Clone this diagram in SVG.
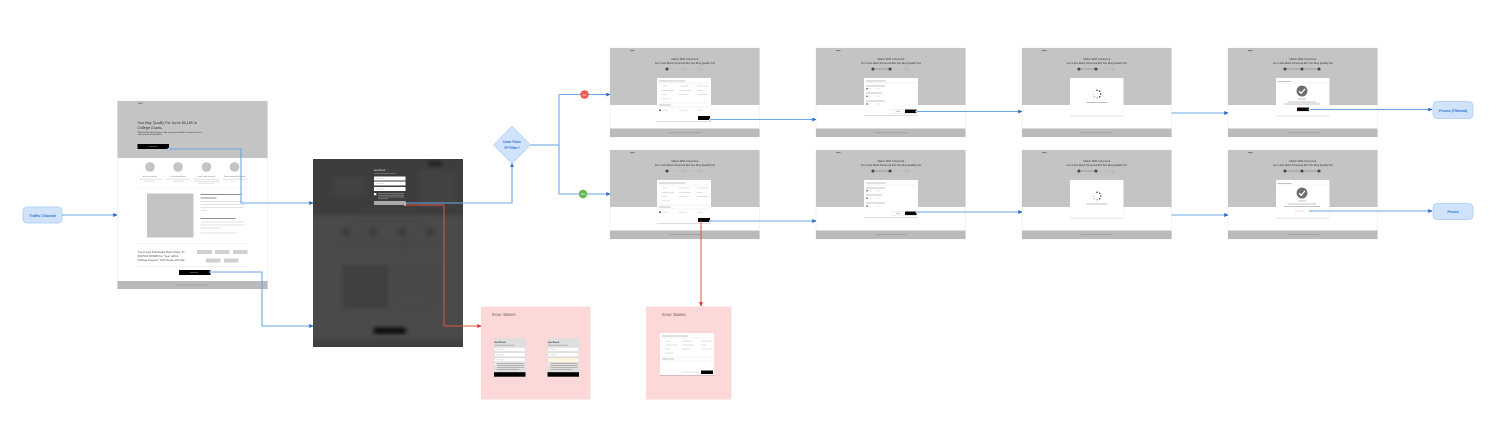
<svg xmlns="http://www.w3.org/2000/svg" width="1500" height="433" viewBox="0 0 1500 433">
<style>
text{font-family:"Liberation Sans",Arial,sans-serif;text-rendering:geometricPrecision}
.page{fill:#fff;stroke:#ebebeb;stroke-width:.6}
.grey{fill:#c4c4c4}
.foot{fill:#bababa}
.black{fill:#000}
.tx{fill:none;stroke:#8f8f8f;stroke-width:.55}
.txd{fill:none;stroke:#444;stroke-width:.6}
.txl{fill:none;stroke:#c2c2c2;stroke-width:.5}
.rule{fill:none;stroke:#e6e6e6;stroke-width:.5}
.title{font-size:2.75px;fill:#333;text-anchor:middle}
.head{fill:#333}
.modal{fill:#fff;filter:url(#sh)}
.soft{filter:url(#so)}
.flow{fill:#d0e3fb;stroke:#a9cdf5;stroke-width:.8}
.flowt{fill:#2d74d6;font-size:3.7px;font-weight:700;text-anchor:middle}
.c{fill:none;stroke:#6aa8e6;stroke-width:1.1}
.r{fill:none;stroke:#e2553f;stroke-width:1}
.h{fill:#fff;stroke:#5fa0e2;stroke-width:.5}
.hr{fill:#fff;stroke:#e2553f;stroke-width:.5}
.pink{fill:#fdd8d8}
.err{font-size:4.4px;fill:#555}
.field{fill:#fff;stroke:#cfcfcf;stroke-width:.3}
</style>
<defs>
<filter id="sh" x="-10%" y="-10%" width="120%" height="125%"><feDropShadow dx="0" dy=".6" stdDeviation=".5" flood-color="#000" flood-opacity=".22"/></filter>
<filter id="bl" x="-5%" y="-5%" width="110%" height="110%"><feGaussianBlur stdDeviation="2"/></filter>
<filter id="so" x="-2%" y="-2%" width="104%" height="104%"><feGaussianBlur stdDeviation=".28"/></filter>
<marker id="a" viewBox="0 0 6 6" refX="5.6" refY="3" markerWidth="4" markerHeight="4" markerUnits="userSpaceOnUse" orient="auto"><path d="M0 0L6 3L0 6z" fill="#2c6cc4"/></marker>
<marker id="ar" viewBox="0 0 6 6" refX="5.6" refY="3" markerWidth="4" markerHeight="4" markerUnits="userSpaceOnUse" orient="auto"><path d="M0 0L6 3L0 6z" fill="#d9342b"/></marker>
<g id="scr">
<rect class="page" width="149.5" height="89"/>
<rect class="grey" width="149.5" height="57"/>
<rect class="foot" y="80.5" width="149.5" height="8.5"/>
<path class="txd" d="M20 2.6h4.5"/>
<text class="title" x="75" y="11.7">Match With Schools &amp;</text>
<text class="title" x="75" y="15.8">See How Much Financial Aid You May Qualify For</text>
<path class="tx" d="M59 84.6h32"/>
<path class="txl" d="M55.5 24.7h3M72.5 24.7h3M89.5 24.7h3"/>
</g>
<g id="s1"><circle cx="57" cy="21" r="1.6" fill="#444"/><circle cx="74" cy="21" r="1.5" fill="none" stroke="#999" stroke-width=".3"/><circle cx="91" cy="21" r="1.5" fill="none" stroke="#999" stroke-width=".3"/><path d="M59 21h13.500M76 21h13.500" stroke="#aaa" stroke-width=".25"/></g>
<g id="s2"><circle cx="57" cy="21" r="1.6" fill="#444"/><circle cx="74" cy="21" r="1.6" fill="#444"/><circle cx="91" cy="21" r="1.5" fill="none" stroke="#999" stroke-width=".3"/><path d="M59 21h13.500" stroke="#333" stroke-width=".3"/><path d="M76 21h13.500" stroke="#aaa" stroke-width=".25"/></g>
<g id="s3"><circle cx="57" cy="21" r="1.6" fill="#444"/><circle cx="74" cy="21" r="1.6" fill="#444"/><circle cx="91" cy="21" r="1.6" fill="#444"/><path d="M59 21h13.500M76 21h13.500" stroke="#333" stroke-width=".3"/></g>
<g id="m1">
<rect class="modal" width="54" height="43"/>
<path class="tx" d="M2 3h26"/><path class="rule" d="M2 5h50"/>
<path class="txl" d="M5 8h5M22 8h10M40 8h11M5 12.5h12M22 12.5h12M40 12.5h6M5 16.5h5M22 16.5h8M40 16.5h11M5 20.8h8"/>
<path class="rule" d="M2 25h50"/><path class="tx" d="M2 27h12"/><path class="rule" d="M2 29h50"/>
<circle cx="3" cy="32.2" r=".9" fill="#444"/><path class="txl" d="M5 32.2h6M22 32.2h8M40 32.2h6"/>
<rect class="black" x="41" y="38" width="12" height="4"/>
</g>
<g id="m2">
<rect class="modal" width="54" height="37"/>
<path class="tx" d="M2 3h20"/><path class="rule" d="M2 5h50"/>
<path class="tx" d="M2 8h19"/><circle cx="3" cy="10.7" r=".8" fill="#444"/><circle cx="12" cy="10.7" r=".6" fill="#ddd"/><path class="txl" d="M5 10.7h2M14 10.700h2"/>
<path class="tx" d="M2 15h16"/><circle cx="3" cy="18.2" r=".8" fill="#444"/><circle cx="12" cy="18.2" r=".6" fill="#ddd"/><path class="txl" d="M5 18.2h2M14 18.200h2"/>
<path class="tx" d="M2 23h19"/><circle cx="3" cy="26" r=".8" fill="#444"/><circle cx="12" cy="26" r=".6" fill="#ddd"/><path class="txl" d="M5 26h2M14 26h2"/>
<rect x="28" y="31.5" width="12" height="3.6" fill="#fff" stroke="#ccc" stroke-width=".3"/><path class="tx" d="M32 33.3h4"/>
<rect class="black" x="41" y="31.5" width="11.5" height="3.6"/>
</g>
<g id="spin">
<g fill="#333"><circle cx="0" cy="-3.7" r=".8"/><circle cx="2.7" cy="-2.7" r=".8"/><circle cx="3.7" cy="0" r=".8"/><circle cx="2.7" cy="2.7" r=".8"/></g>
<g fill="#999"><circle cx="0" cy="3.7" r=".7"/><circle cx="-2.7" cy="2.7" r=".6"/><circle cx="-3.7" cy="0" r=".5"/><circle cx="-2.7" cy="-2.7" r=".4"/></g>
</g>
<g id="chk">
<circle r="5.5" fill="#6e6e6e"/><path d="M-2.8 .2L-.8 2.300L3 -2.200" fill="none" stroke="#fff" stroke-width="1.300"/>
</g>
<g id="form">
<rect width="31.5" height="39" fill="#dfdfdf"/>
<text x="0.5" y="5" font-size="2.4" font-weight="700" fill="#222">Get Fixed</text>
<path class="tx" d="M.5 7.300h20"/>
<rect class="field" x=".5" y="9.500" width="30.5" height="3.8"/><rect class="field" x=".5" y="14.800" width="30.5" height="3.8"/><rect class="field" x=".5" y="20" width="30.5" height="3.8"/>
<path class="txl" d="M2 11.400h8M2 16.700h8M2 21.900h8"/>
<rect x=".5" y="25.5" width="1.5" height="1.5" fill="#fff"/>
<path class="tx" d="M3 25.500h27M3 27.500h27M3 29.500h27M3 31.500h22"/>
<rect class="black" x="0" y="34.2" width="31.5" height="4.5"/>
</g>
</defs>

<g id="traffic-channel"><rect class="flow" x="23" y="207" width="39" height="16" rx="4"/><text class="flowt" x="42.500" y="216.500">Traffic Channel</text></g>

<g id="landing" class="soft">
<rect class="page" x="117.500" y="101" width="150" height="188"/>
<rect class="grey" x="117.500" y="101" width="150" height="57"/>
<rect class="foot" x="117.500" y="281" width="150" height="8"/>
<path class="txd" d="M138 103.300h4.500"/>
<text class="head" x="137.500" y="123.700" font-size="3.700">You May Qualify For Up to $6,195 in</text>
<text class="head" x="137.500" y="128.500" font-size="3.700">College Grants</text>
<text class="head" x="137.500" y="132.500" font-size="2.150">Take this 30 second quiz to see if you are eligible for grants you can</text>
<text class="head" x="137.500" y="135.300" font-size="2.150">use towards an education.</text>
<rect class="black" x="137.500" y="144" width="31.500" height="5"/>
<path d="M149 146.500h8" stroke="#888" stroke-width=".5"/>
<g class="grey"><circle cx="150" cy="167" r="4.800"/><circle cx="178" cy="167" r="4.800"/><circle cx="206.500" cy="167" r="4.800"/><circle cx="234.500" cy="167" r="4.800"/></g>
<g font-size="1.650" fill="#333" text-anchor="middle"><text x="150" y="177">Safer Your Journey</text><text x="178" y="177">Financial Aid Options</text><text x="206.500" y="177">Earn Flexible Programs</text><text x="234.500" y="177">Compare Accredited Schools</text></g>
<path class="txl" d="M139 179.300h23M166 179.300h24M194 179.300h25M223 179.300h24M145 181.300h10M172 181.300h12M194 181.300h25M231 181.300h4M198 183.300h17"/>
<path class="rule" d="M136 188h112"/>
<rect class="grey" x="147" y="193.500" width="46.500" height="44"/>
<path class="txd" d="M200.500 194.500h41M200.500 198h16M200.500 218.500h35"/>
<path class="txl" d="M200.500 201.500h43M200.500 204.500h44M200.500 207.500h44M200.500 210.500h6M200.500 222h44M200.500 225h44M200.500 228h20M200.500 233h36"/>
<path class="rule" d="M136 243.500h112"/>
<g font-size="2.950" fill="#555"><text x="137.500" y="252.500">You Could Potentially Earn Close To</text><text x="137.500" y="256.800">$22,500 MORE Per Year with A</text><text x="137.500" y="261">College Degree* from these schools</text></g>
<g fill="#d0d0d0"><rect x="197" y="250" width="15" height="4"/><rect x="215" y="250" width="14.500" height="4"/><rect x="233" y="250" width="14.500" height="4"/><rect x="206" y="258.500" width="14.500" height="4"/><rect x="224" y="258.500" width="14.500" height="4"/></g>
<path class="rule" d="M136 266.500h112"/>
<rect class="black" x="179" y="270" width="31.500" height="5"/>
<path d="M190 272.500h8" stroke="#888" stroke-width=".5"/>
<path class="tx" d="M177 285h31"/>
</g>

<g id="email-overlay">
<svg x="313" y="159" width="150" height="188" viewBox="0 0 150 188">
<rect width="150" height="188" fill="#4a4a4a"/>
<g filter="url(#bl)">
<rect x="-10" y="-10" width="170" height="66" fill="#3d3d3d"/>
<rect x="-10" y="180" width="170" height="18" fill="#404040"/>
<rect x="115" y="2" width="14" height="5" fill="#1c1c1c"/>
<path stroke="#4d4d4d" stroke-width="1.300" d="M20 21h35M20 25h30M20 29h35M20 34h30M105 14h38M105 20h38M105 26h38M105 32h38M105 38h38M105 44h38"/>
<path stroke="#404040" stroke-width="1.500" d="M40 62h70"/>
<g fill="#3a3a3a"><circle cx="33" cy="73" r="4.500"/><circle cx="60" cy="73" r="4.500"/><circle cx="89" cy="73" r="4.500"/><circle cx="117" cy="73" r="4.500"/></g>
<path stroke="#404040" stroke-width="1.300" d="M22 83h24M50 83h24M78 83h26M107 83h26M82 87h18"/>
<rect x="29" y="106" width="47" height="43" fill="#3f3f3f"/>
<path stroke="#404040" stroke-width="1.200" d="M83 108h41M83 114h41M83 118h43M83 122h43M83 130h40M83 134h43M83 138h43M83 145h36"/>
<rect x="61" y="169" width="31.500" height="5.500" fill="#000"/>
</g>
<text x="61" y="12" font-size="2.400" font-weight="700" fill="#ddd">Get Fixed</text>
<path stroke="#999" stroke-width=".5" d="M61 14.500h22"/>
<g fill="#fff"><rect x="61" y="17.500" width="31.500" height="4"/><rect x="61" y="22.500" width="31.500" height="4"/><rect x="61" y="28" width="31.500" height="4"/><rect x="61" y="34" width="2.300" height="2.300"/></g>
<path class="txl" d="M63 19.500h8M63 24.500h8M63 30h8"/>
<path stroke="#aaa" stroke-width=".5" d="M65 34.500h26M65 36.300h26M65 38h26M65 39.600h10"/>
<rect x="61" y="42" width="31.500" height="4" fill="#aaa"/>
</svg>
</g>

<g id="ip-filter"><path class="flow" d="M512 126L530.500 145L512 163.500L493.500 145Z" stroke="#5b8fd6"/><text class="flowt" x="512" y="142.800">User Pass</text><text class="flowt" x="512" y="149">IP Filter?</text></g>

<g id="filtered-1" class="soft"><use href="#scr" x="610" y="48"/><use href="#s1" x="610" y="48"/><use href="#m1" x="657" y="78"/></g>
<g id="filtered-2" class="soft"><use href="#scr" x="816" y="48"/><use href="#s2" x="816" y="48"/><use href="#m2" x="864" y="78"/></g>
<g id="filtered-3" class="soft"><use href="#scr" x="1022" y="48"/><use href="#s2" x="1022" y="48"/><rect class="modal" x="1070" y="78" width="53.500" height="37.500"/><use href="#spin" x="1097" y="94"/><path class="tx" d="M1086.500 102.500h21"/></g>
<g id="filtered-4" class="soft"><use href="#scr" x="1228" y="48"/><use href="#s3" x="1228" y="48"/><rect class="modal" x="1276" y="78" width="53.500" height="37.500"/><path class="tx" d="M1277.500 81.500h14"/><path class="rule" d="M1277.500 83h50"/><use href="#chk" x="1302" y="91"/><path class="tx" d="M1298 99h8M1288 102h28M1284 104h36"/><rect class="black" x="1297" y="107.500" width="12" height="3.600"/></g>

<g id="full-1" class="soft"><use href="#scr" x="610" y="150"/><use href="#s1" x="610" y="150"/><use href="#m1" x="657" y="180"/></g>
<g id="full-2" class="soft"><use href="#scr" x="816" y="150"/><use href="#s2" x="816" y="150"/><use href="#m2" x="864" y="180"/></g>
<g id="full-3" class="soft"><use href="#scr" x="1022" y="150"/><use href="#s2" x="1022" y="150"/><rect class="modal" x="1070" y="180" width="53.500" height="37.500"/><use href="#spin" x="1097" y="196"/><path class="tx" d="M1086.500 204h21"/></g>
<g id="full-4" class="soft"><use href="#scr" x="1228" y="150"/><use href="#s3" x="1228" y="150"/><rect class="modal" x="1276" y="180" width="53.500" height="37.500"/><path class="tx" d="M1277.500 183.500h14"/><path class="rule" d="M1277.500 185h50"/><use href="#chk" x="1302" y="193"/><path class="tx" d="M1298 201h8M1288 204h28M1284 206.500h36"/><path class="txl" d="M1295 211h10"/></g>

<g id="error-states-1"><rect class="pink" x="481" y="306.500" width="109.500" height="93"/><text class="err" x="492" y="315.800">Error States</text><use href="#form" x="494" y="338"/><use href="#form" x="547.500" y="338"/><rect x="548" y="358" width="30.500" height="3.800" fill="#fdf6dc"/></g>
<g id="error-states-2"><rect class="pink" x="646" y="306.500" width="85.500" height="93"/><text class="err" x="662" y="315.800">Error States</text><rect class="modal" x="660" y="333" width="54" height="42"/><path class="tx" d="M662 336h26"/><path class="rule" d="M662 338h50"/><path class="txl" d="M665 341h5M682 341h10M701 341h11M665 345h12M682 345h12M701 345h6M665 349h5M682 349h8M701 349h11M665 353h8"/><path class="rule" d="M662 357h50"/><path class="tx" d="M662 359h12"/><path class="rule" d="M662 361h50"/><path class="txl" d="M681 372h18"/><rect class="black" x="701" y="370.500" width="12" height="3.500"/></g>

<g id="promo-filtered"><rect class="flow" x="1433" y="101.500" width="40" height="17" rx="4"/><text class="flowt" x="1453" y="111.500" font-size="3.500">Promo (Filtered)</text></g>
<g id="promo"><rect class="flow" x="1433" y="203.500" width="40" height="16" rx="4"/><text class="flowt" x="1453" y="212.800">Promo</text></g>

<g id="connectors">
<path class="c" marker-end="url(#a)" d="M62 215H117"/>
<path class="c" marker-end="url(#a)" d="M168.500 149H241V203H313"/>
<path class="c" marker-end="url(#a)" d="M210.500 272H262V326H313"/>
<path class="c" marker-end="url(#a)" d="M405 203H512V163.500"/>
<path class="r" marker-end="url(#ar)" d="M405 205H444V326H481"/>
<path class="c" d="M530.500 145H559"/>
<path class="c" d="M559 94.500V194"/>
<path class="c" marker-end="url(#a)" d="M559 94.500H610"/>
<path class="c" marker-end="url(#a)" d="M559 194H610"/>
<path class="c" marker-end="url(#a)" d="M710 119.500H816"/>
<path class="c" marker-end="url(#a)" d="M916.500 111.500H1022"/>
<path class="c" marker-end="url(#a)" d="M1171.500 113H1228"/>
<path class="c" marker-end="url(#a)" d="M1309.500 109.500H1432"/>
<path class="c" marker-end="url(#a)" d="M710 221H816"/>
<path class="c" marker-end="url(#a)" d="M916.500 212H1022"/>
<path class="c" marker-end="url(#a)" d="M1171.500 215H1228"/>
<path class="c" marker-end="url(#a)" d="M1310 211H1432"/>
<path class="r" marker-end="url(#ar)" d="M701 221V306"/>
<circle class="h" cx="168.500" cy="149" r=".9"/><circle class="h" cx="210.500" cy="272" r=".9"/><circle class="h" cx="405" cy="203" r=".9"/><circle class="hr" cx="405" cy="205" r=".9"/><circle class="h" cx="710" cy="119.500" r=".9"/><circle class="h" cx="916.500" cy="111.500" r=".9"/><circle class="h" cx="1309.500" cy="109.500" r=".9"/><circle class="h" cx="710" cy="221" r=".9"/><circle class="h" cx="916.500" cy="212" r=".9"/><circle class="h" cx="1310" cy="211" r=".9"/>
<g id="no-badge"><circle cx="584.500" cy="94.500" r="4.200" fill="#ee5a52"/><text x="584.500" y="95.700" font-size="3" fill="#fff" text-anchor="middle">No</text></g>
<g id="yes-badge"><circle cx="583" cy="194" r="4.200" fill="#62bb46"/><text x="583" y="195.200" font-size="3" fill="#fff" text-anchor="middle">Yes</text></g>
</g>
</svg>
